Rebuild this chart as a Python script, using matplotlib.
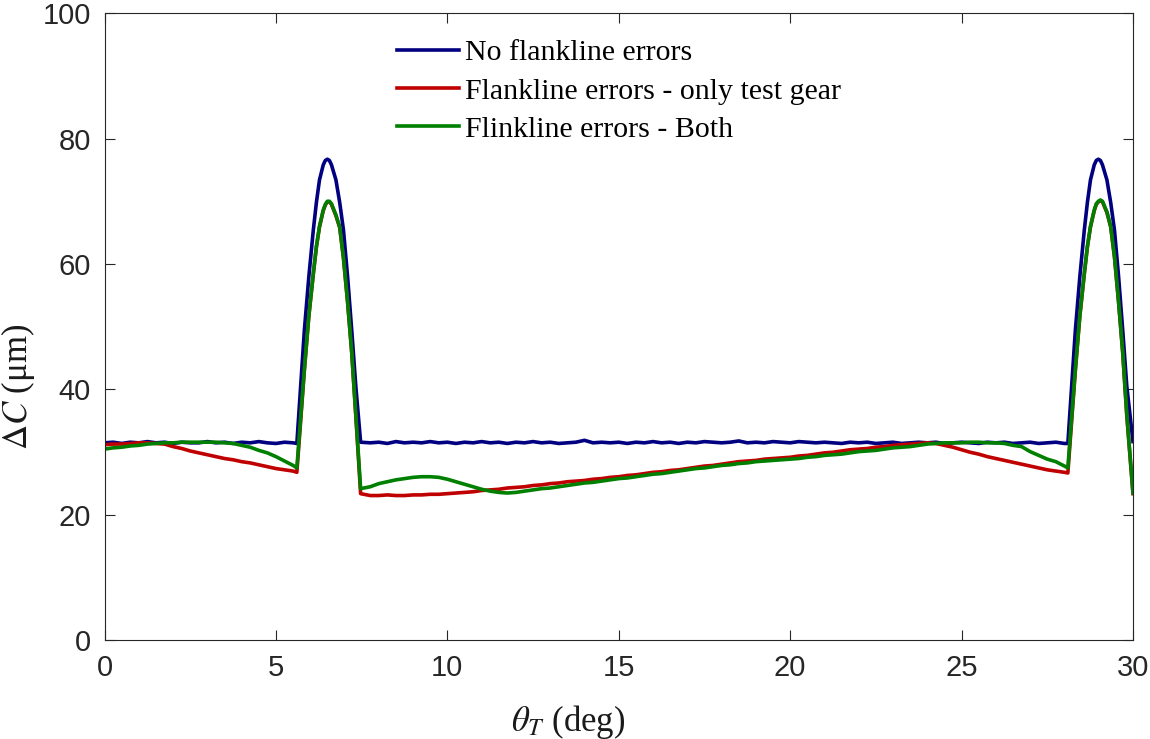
import numpy as np
import matplotlib
matplotlib.use('Agg')
import matplotlib.pyplot as plt

plt.rcParams['font.family'] = ['Liberation Serif', 'DejaVu Serif']
plt.rcParams['mathtext.fontset'] = 'stix'

# sample positions (deg)
theta_start = np.arange(0, 5.51, 0.25)
theta_peak1 = [5.61, 5.72, 5.83, 5.96, 6.09, 6.18, 6.27, 6.38, 6.44, 6.50,
               6.56, 6.62, 6.75, 6.86, 6.97, 7.09, 7.21, 7.33, 7.47]
theta_mid = np.arange(7.75, 28.01, 0.25)
theta_peak2 = [28.10, 28.21, 28.32, 28.45, 28.58, 28.67, 28.76, 28.87, 28.93, 28.99,
               29.05, 29.11, 29.24, 29.35, 29.46, 29.58, 29.70, 29.82, 30.0]

# No flankline errors
blue_start = [31.5, 31.6, 31.4, 31.6, 31.5, 31.7, 31.5, 31.6, 31.4, 31.6, 31.5, 31.5,
              31.7, 31.5, 31.6, 31.4, 31.6, 31.5, 31.7, 31.5, 31.4, 31.6, 31.5]
blue_peak1 = [31.4, 40.5, 49.5, 58.0, 65.4, 69.8, 73.4, 75.8, 76.5, 76.7,
              76.5, 75.8, 73.4, 69.8, 65.4, 58.0, 49.5, 40.5, 31.6]
blue_mid = [31.5,
            31.6, 31.4, 31.7, 31.5, 31.6, 31.5, 31.7, 31.5,
            31.6, 31.4, 31.6, 31.5, 31.7, 31.5, 31.6, 31.4,
            31.6, 31.5, 31.7, 31.5, 31.6, 31.4, 31.5, 31.6,
            31.9, 31.5, 31.6, 31.5, 31.6, 31.4, 31.6, 31.5,
            31.7, 31.5, 31.6, 31.4, 31.6, 31.5, 31.7, 31.6,
            31.5, 31.6, 31.8, 31.5, 31.6, 31.5, 31.7, 31.6,
            31.5, 31.7, 31.6, 31.5, 31.6, 31.5, 31.4, 31.6,
            31.5, 31.6, 31.4, 31.5, 31.6, 31.4, 31.5, 31.6,
            31.5, 31.6, 31.4, 31.5, 31.6, 31.5, 31.4, 31.6,
            31.5, 31.6, 31.4, 31.5, 31.6, 31.4, 31.5, 31.6,
            31.4]
blue_peak2 = [31.4, 40.5, 49.5, 58.0, 65.4, 69.8, 73.4, 75.8, 76.5, 76.7,
              76.5, 75.8, 73.4, 69.8, 65.4, 58.0, 49.5, 40.5, 31.7]

# Flankline errors - only test gear
red_start = [31.2, 31.3, 31.3, 31.4, 31.5, 31.5, 31.4, 31.3, 30.9, 30.6, 30.2, 29.9,
             29.6, 29.3, 29.0, 28.8, 28.5, 28.3, 28.0, 27.7, 27.4, 27.2, 27.0]
red_peak1 = [26.8, 35.0, 43.1, 51.7, 58.4, 62.7, 65.9, 68.5, 69.4, 69.9,
             69.9, 69.5, 67.7, 65.8, 60.9, 53.9, 45.9, 35.8, 23.4]
red_mid = [23.1,
           23.1, 23.2, 23.1, 23.1, 23.2, 23.2, 23.3, 23.3,
           23.4, 23.5, 23.6, 23.7, 23.9, 24.0, 24.1, 24.3,
           24.4, 24.5, 24.7, 24.8, 25.0, 25.1, 25.3, 25.4,
           25.5, 25.7, 25.8, 26.0, 26.1, 26.3, 26.4, 26.6,
           26.8, 26.9, 27.1, 27.2, 27.4, 27.6, 27.8, 27.9,
           28.1, 28.3, 28.5, 28.6, 28.7, 28.9, 29.0, 29.1,
           29.2, 29.4, 29.5, 29.7, 29.9, 30.0, 30.2, 30.4,
           30.5, 30.6, 30.8, 30.9, 31.1, 31.2, 31.3, 31.4,
           31.5, 31.4, 31.1, 30.8, 30.4, 30.0, 29.7, 29.3,
           29.0, 28.7, 28.4, 28.1, 27.8, 27.5, 27.2, 27.0,
           26.8]
red_peak2 = [26.7, 35.0, 43.1, 51.7, 58.4, 62.7, 65.9, 68.5, 69.5, 69.9,
             70.1, 69.9, 68.2, 65.9, 61.1, 53.9, 45.9, 35.8, 23.4]

# Flinkline errors - Both
green_start = [30.5, 30.7, 30.8, 31.0, 31.1, 31.3, 31.4, 31.5, 31.5, 31.6, 31.6, 31.6,
               31.6, 31.6, 31.5, 31.4, 31.1, 30.8, 30.3, 29.9, 29.3, 28.6, 27.9]
green_peak1 = [27.5, 35.5, 43.3, 51.8, 58.5, 62.8, 66.0, 68.6, 69.5, 70.0,
               70.0, 69.6, 67.8, 65.9, 61.0, 54.0, 46.0, 36.0, 24.2]
green_mid = [24.5,
             25.0, 25.3, 25.6, 25.8, 26.0, 26.1, 26.1, 26.0,
             25.7, 25.3, 24.9, 24.5, 24.1, 23.8, 23.6, 23.5,
             23.6, 23.8, 24.0, 24.2, 24.3, 24.5, 24.7, 24.9,
             25.1, 25.2, 25.4, 25.6, 25.8, 25.9, 26.1, 26.3,
             26.5, 26.6, 26.8, 27.0, 27.2, 27.4, 27.5, 27.7,
             27.9, 28.0, 28.2, 28.3, 28.5, 28.6, 28.7, 28.8,
             28.9, 29.0, 29.2, 29.3, 29.5, 29.6, 29.7, 29.9,
             30.1, 30.2, 30.3, 30.5, 30.7, 30.8, 30.9, 31.1,
             31.3, 31.4, 31.5, 31.5, 31.5, 31.6, 31.6, 31.5,
             31.5, 31.4, 31.1, 30.9, 30.1, 29.5, 28.9, 28.5,
             27.8]
green_peak2 = [27.5, 35.5, 43.3, 51.8, 58.5, 62.8, 66.0, 68.6, 69.6, 70.0,
               70.2, 70.0, 68.3, 66.0, 61.2, 54.0, 46.0, 36.0, 23.5]

labels = ['No flankline errors', 'Flankline errors - only test gear',
          'Flinkline errors - Both']
colors = ['#000080', '#C00000', '#008000']

theta = np.concatenate([theta_start, theta_peak1, theta_mid, theta_peak2])
series = [blue_start + blue_peak1 + blue_mid + blue_peak2,
          red_start + red_peak1 + red_mid + red_peak2,
          green_start + green_peak1 + green_mid + green_peak2]

fig = plt.figure(figsize=(11.5, 7.39), dpi=100)
ax = fig.add_axes([0.0909, 0.1333, 0.8943, 0.8491])

for vals, lab, col in zip(series, labels, colors):
    ax.plot(theta, vals, color=col, lw=2.6, label=lab)

ax.set_xlim(0, 30)
ax.set_ylim(0, 100)
ax.set_xticks([0, 5, 10, 15, 20, 25, 30])
ax.set_yticks([0, 20, 40, 60, 80, 100])
ax.tick_params(direction='in', length=7, width=0.8, colors='#262626',
               top=True, right=True, labelsize=21, pad=10)
for lab in ax.get_xticklabels() + ax.get_yticklabels():
    lab.set_family('Liberation Sans')
for sp in ax.spines.values():
    sp.set_color('#262626')
    sp.set_linewidth(0.8)

ax.set_xlabel(r'$\theta_T$ (deg)', fontsize=25, color='#1a1a1a')
ax.set_ylabel(r'$\Delta C$ (μm)', fontsize=25, color='#1a1a1a')
ax.xaxis.set_label_coords(0.451, -0.1)
ax.yaxis.set_label_coords(-0.066, 0.404)

ax.legend(loc='upper left', bbox_to_anchor=(0.284, 0.958), frameon=False,
          fontsize=21.5, handlelength=2.1, handletextpad=0.18, borderpad=0,
          labelspacing=0.38, borderaxespad=0)

fig.savefig('out.png', dpi=100)
